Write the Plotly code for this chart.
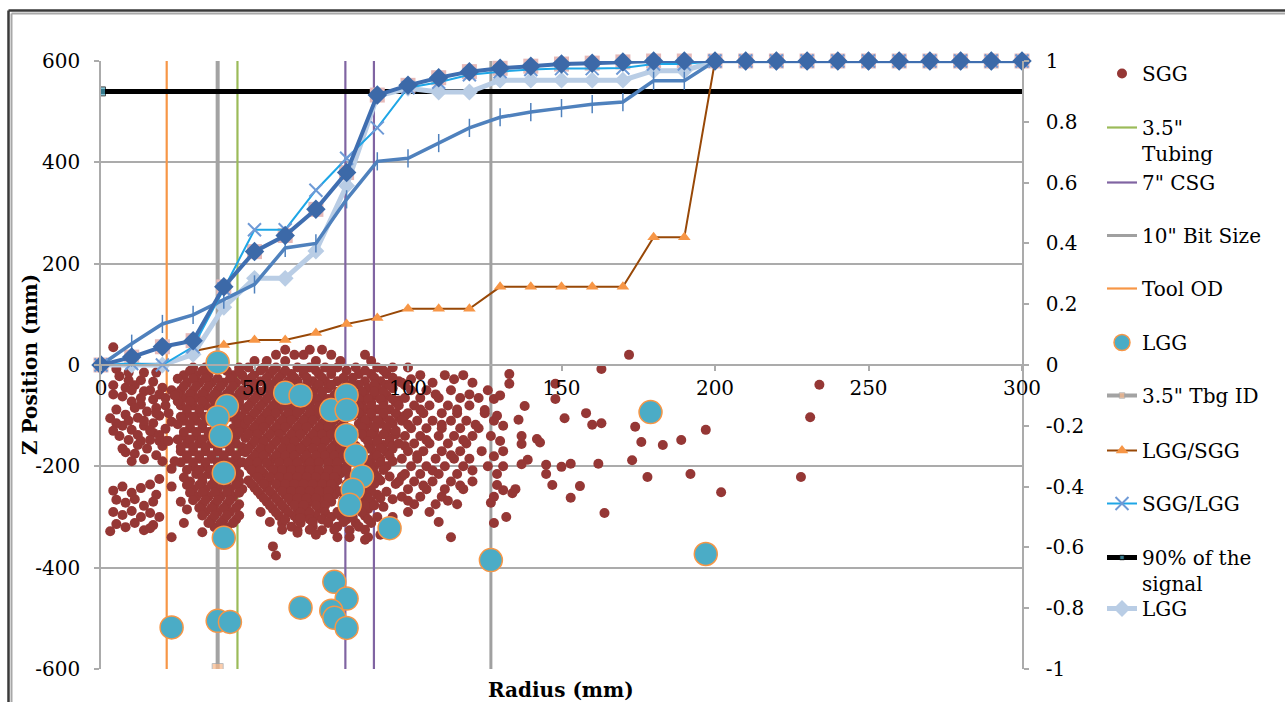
import plotly.graph_objects as go

FONT = "DejaVu Serif"

# ---------------------------------------------------------------------------
# Cumulative signal fractions (right axis), sampled every 10 mm of radius
# ---------------------------------------------------------------------------
radius_steps = list(range(0, 301, 10))

diamond_frac = [0, 0.026, 0.06, 0.08, 0.257, 0.373, 0.426, 0.512, 0.633, 0.888,
                0.92, 0.945, 0.965, 0.976, 0.983, 0.99, 0.993, 0.997,
                1, 1, 1, 1, 1, 1, 1, 1, 1, 1, 1, 1, 1]
square_frac = [0, 0.026, 0.06, 0.08, 0.257, 0.373, 0.426, 0.512, 0.633, 0.888,
               0.92, 0.945, 0.965, 0.976, 0.983, 0.99, 0.993, 0.997,
               1, 1, 1, 1, 1, 1, 1, 1, 1, 1, 1, 1, 1]
plus_frac = [0, 0.07, 0.135, 0.165, 0.215, 0.265, 0.385, 0.4, 0.545, 0.67,
             0.68, 0.73, 0.78, 0.815, 0.832, 0.845, 0.858, 0.865, 0.935, 0.935,
             1, 1, 1, 1, 1, 1, 1, 1, 1, 1, 1]
sgg_over_lgg = [0, 0.005, 0, 0.06, 0.25, 0.445, 0.445, 0.575, 0.68, 0.78,
                0.912, 0.93, 0.955, 0.965, 0.972, 0.975, 0.975, 0.977, 0.99, 0.99,
                1, 1, 1, 1, 1, 1, 1, 1, 1, 1, 1]
lgg_frac = [0, 0, 0, 0.035, 0.19, 0.285, 0.285, 0.375, 0.59, 0.885,
            0.91, 0.898, 0.898, 0.937, 0.937, 0.937, 0.937, 0.937, 0.968, 0.968,
            1, 1, 1, 1, 1, 1, 1, 1, 1, 1, 1]

ratio_radius = list(range(30, 201, 10))
lgg_over_sgg = [0.045, 0.066, 0.082, 0.082, 0.105, 0.135, 0.155, 0.185, 0.185,
                0.185, 0.257, 0.257, 0.257, 0.257, 0.257, 0.42, 0.42, 1.0]

signal_90_radius = [0, 300]
signal_90_level = [0.9, 0.9]

# ---------------------------------------------------------------------------
# Completion radii (mm) drawn as full-height vertical lines
# ---------------------------------------------------------------------------
z_span = [-600, 600]
tool_od_radius = 21.4
tbg_id_radius = 38.0
tubing_od_radius = 44.45
csg_id_radius = 79.6
csg_od_radius = 88.9
bit_radius = 127.0

# ---------------------------------------------------------------------------
# LGG detection positions (radius mm, z mm)
# ---------------------------------------------------------------------------
lgg_points = [
    (38, 5), (41, -81), (38, -103), (39, -140), (40, -213), (40, -341),
    (23, -518), (38, -505), (42, -507), (60, -55), (65, -60), (75, -89),
    (80, -59), (80, -89), (80, -138), (83, -178), (85, -220), (82, -246),
    (81, -276), (94, -322), (127, -385), (179, -93), (197, -373),
    (65, -479), (76, -428), (80, -461), (75, -485), (76, -499), (80, -519),
]

# ---------------------------------------------------------------------------
# SGG detection positions: dense bands listed as (z, [radii]) and loose points
# ---------------------------------------------------------------------------
sgg_rows = [
    # near-wellbore band
    (-8, [5]), (-22, [6]), (-40, [4, 11]), (-45, [8]), (-52, [14]), (-33, [17]),
    (-45, [20]), (-62, [7]), (-72, [10]), (-78, [13]), (-68, [17]), (-80, [21]),
    (-88, [5]), (-98, [8]), (-104, [12]), (-92, [15]), (-100, [19]), (-112, [23]),
    (-120, [7, 14]), (-128, [10]), (-134, [17]), (-126, [21]), (-148, [9, 16]),
    (-158, [12]), (-160, [20]), (-175, [11]), (-186, [14]), (-172, [8]),
    (-178, [18]), (-140, [6]), (-105, [3]),
    (-30, [9, 13]), (-58, [4, 19]), (-85, [11, 18]), (-115, [5, 17]),
    (-138, [12, 19]), (-165, [7, 15]),
    (-15, [9, 14, 18]), (-50, [10, 16, 23]), (-65, [13, 21]), (-95, [18, 22]),
    (-110, [9, 14]), (-130, [4, 16]), (-150, [13, 19, 21]), (-190, [10, 20]),
    # lower left pocket
    (-248, [4]), (-240, [7]), (-252, [10]), (-243, [13]), (-236, [16]),
    (-256, [18]), (-266, [5]), (-272, [8]), (-265, [11]), (-278, [14]),
    (-270, [17]), (-290, [4]), (-296, [7]), (-288, [10]), (-300, [13, 19]),
    (-292, [16]), (-314, [5]), (-320, [8]), (-312, [11]), (-326, [14]),
    (-316, [17]), (-328, [3]),
    # tubing / tool column
    (-5, [30, 34, 45]), (-20, [27, 31, 35, 43, 46]), (-35, [28, 32, 36, 40, 44]),
    (-50, [26, 30, 34, 38, 42, 46]), (-65, [27, 31, 35, 39, 43]),
    (-80, [26, 30, 34, 45]), (-95, [28, 32, 36, 44]), (-110, [27, 31, 35, 44]),
    (-125, [29, 33, 37, 43, 46]), (-140, [27, 31, 35, 44]),
    (-155, [28, 32, 36, 40, 44]), (-170, [26, 30, 34, 38, 42, 46]),
    (-185, [28, 32, 36, 40, 44]), (-200, [30, 34, 44]), (-215, [31, 35, 45]),
    (-230, [29, 33, 37, 41, 45]), (-245, [30, 34, 38, 42, 46]),
    (-260, [31, 35, 39, 43]), (-275, [33, 37, 41, 45]), (-290, [34, 38, 42]),
    (-305, [36, 40, 44]), (-320, [37, 41]), (-330, [33]),
    (-12, [29, 33, 41, 45]), (-27, [25, 30, 34, 38, 42]),
    (-42, [27, 31, 35, 39, 43]), (-57, [25, 29, 33, 37, 41, 45]),
    (-72, [25, 29, 33, 37, 41, 45]), (-87, [28, 32, 36, 41]),
    (-102, [26, 30, 34, 42, 46]), (-117, [25, 29, 33, 37, 45]),
    (-132, [27, 31, 35, 41, 45]), (-147, [25, 29, 33, 37, 42]),
    (-162, [26, 30, 34, 38, 42, 46]), (-178, [28, 32, 36, 40, 44]),
    (-192, [26, 30, 34, 38, 42, 46]), (-207, [28, 32, 36, 40, 43]),
    (-222, [27, 33, 37, 41, 43]), (-237, [28, 32, 36, 40, 44]),
    (-252, [29, 33, 37, 41, 45]), (-267, [30, 34, 38, 42]),
    (-282, [32, 36, 40, 44]), (-297, [33, 37, 41, 45]), (-312, [35, 39, 43]),
    # casing annulus / formation cloud
    (30, [60, 68, 72]), (20, [57, 63, 66, 75, 86]), (8, [50, 54, 60, 70, 78, 88]),
    (-5, [48, 53, 57, 64, 68, 73, 77, 83, 90, 95]),
    (-18, [50, 55, 59, 62, 66, 71, 75, 84, 88, 93]),
    (-32, [47, 52, 57, 61, 64, 69, 73, 77, 86, 91, 97]),
    (-46, [49, 54, 58, 62, 66, 70, 74, 87, 90, 95]),
    (-60, [47, 51, 55, 69, 72, 76, 86, 89, 93]),
    (-74, [49, 53, 57, 60, 64, 68, 71, 74, 85, 88, 92, 96]),
    (-88, [47, 51, 55, 58, 62, 65, 69, 72, 86, 90, 94]),
    (-102, [49, 53, 56, 60, 63, 67, 70, 74, 77, 85, 88, 92, 97]),
    (-116, [47, 51, 54, 58, 61, 65, 68, 72, 75, 79, 84, 87, 91, 95]),
    (-130, [49, 52, 56, 59, 63, 66, 70, 73, 76, 86, 89, 93]),
    (-144, [47, 51, 54, 58, 61, 64, 68, 71, 74, 77, 86, 90, 94]),
    (-158, [49, 53, 56, 60, 63, 66, 69, 72, 76, 79, 88, 92]),
    (-172, [47, 51, 54, 58, 61, 64, 67, 71, 74, 77, 80, 89, 93]),
    (-186, [49, 52, 56, 59, 62, 66, 69, 72, 75, 78, 88, 91]),
    (-200, [48, 51, 55, 58, 61, 64, 67, 70, 74, 77, 80, 89, 93]),
    (-214, [50, 53, 57, 60, 63, 66, 69, 72, 75, 78, 89]),
    (-228, [48, 52, 55, 59, 62, 65, 68, 71, 74, 77, 88, 91]),
    (-242, [50, 54, 58, 61, 64, 67, 70, 73, 76, 87]),
    (-256, [52, 56, 60, 63, 66, 69, 72, 76, 86, 90]),
    (-270, [54, 58, 62, 65, 68, 72, 75, 85, 88]),
    (-284, [56, 60, 64, 67, 71, 84, 87]),
    (-298, [58, 63, 66, 70, 78, 86]),
    (-312, [59, 65, 74, 83, 88]), (-326, [64, 72, 81]), (-340, [77, 81, 87]),
    (-11, [52, 56, 60, 66, 70, 75, 80, 86, 92]),
    (-25, [49, 54, 58, 63, 67, 72, 79, 82, 89, 95]),
    (-39, [50, 55, 59, 63, 67, 71, 75, 80, 84, 89, 93]),
    (-53, [48, 52, 56, 60, 64, 68, 72, 77, 85, 89, 92]),
    (-67, [50, 54, 58, 62, 66, 70, 74, 78, 84, 87, 91, 95]),
    (-81, [48, 52, 56, 60, 63, 67, 71, 75, 84, 88, 92]),
    (-95, [50, 54, 57, 61, 64, 68, 71, 75, 84, 88, 92, 96]),
    (-109, [48, 52, 55, 59, 62, 66, 69, 73, 76, 86, 90, 94]),
    (-123, [50, 53, 57, 60, 64, 67, 71, 74, 78, 85, 89, 93]),
    (-137, [48, 51, 55, 58, 62, 65, 69, 72, 75, 85, 88, 92, 96]),
    (-151, [50, 53, 57, 60, 63, 67, 70, 73, 77, 87, 90, 94]),
    (-165, [48, 52, 55, 59, 62, 65, 69, 72, 75, 78, 87, 91, 95]),
    (-179, [50, 53, 57, 60, 63, 67, 70, 73, 76, 79, 90, 94]),
    (-193, [48, 51, 54, 58, 61, 64, 68, 71, 74, 77, 87, 91]),
    (-207, [49, 52, 56, 59, 62, 65, 68, 71, 74, 77, 80, 88, 92]),
    (-221, [51, 55, 58, 61, 64, 67, 70, 73, 76, 87, 90]),
    (-235, [49, 53, 57, 60, 63, 66, 69, 72, 75, 86, 89]),
    (-249, [51, 55, 59, 62, 65, 68, 71, 74, 78, 85, 88]),
    (-263, [53, 57, 61, 64, 67, 70, 74, 84, 87, 91]),
    (-277, [55, 59, 63, 66, 70, 73, 86, 89]),
    (-291, [57, 61, 65, 68, 73, 85]),
    (-305, [60, 64, 68, 72, 80, 87]),
    (-319, [62, 69, 77, 84]),
    (-40, [82, 94, 99]), (-70, [81, 97]), (-100, [82, 99]), (-130, [81, 96]),
    (-160, [83, 95, 99]), (-190, [82, 95]), (-220, [81, 94, 98]),
    (-250, [82, 93]), (-280, [79, 82, 92]), (-300, [75, 82, 90, 95]),
    (-265, [79, 95]), (-235, [80, 96]), (-290, [52, 77]), (-310, [55, 69, 79]),
    (-325, [59, 68, 76, 86]), (-335, [70, 91]),
    # outer formation band
    (-5, [100]), (-20, [104, 112, 118]), (-35, [98, 108, 121]),
    (-50, [101, 106, 114, 126]), (-65, [99, 104, 110, 117, 123]),
    (-80, [97, 102, 107, 113, 120]), (-95, [100, 105, 111, 116, 125]),
    (-110, [98, 103, 108, 114, 119, 128]), (-125, [101, 106, 111, 117, 123]),
    (-140, [99, 104, 110, 115, 121, 127]), (-155, [97, 102, 107, 113, 119]),
    (-170, [100, 105, 111, 117, 124]), (-185, [98, 103, 109, 115, 120]),
    (-200, [101, 106, 112, 118, 126]), (-215, [99, 104, 110, 116]),
    (-230, [97, 102, 108, 114, 121]), (-245, [100, 106, 112, 118]),
    (-260, [98, 104, 111]), (-275, [102, 109, 116]), (-290, [100, 107]),
    (-310, [110]), (-340, [114]),
    (-28, [101, 115]), (-58, [109, 120]), (-88, [104, 116]),
    (-118, [100, 111, 122]), (-148, [106, 118]), (-178, [103, 114]),
    (-208, [108, 121]), (-238, [105, 117]), (-268, [100, 113]),
]

sgg_loose = [
    (4, 35), (23, -240), (26, -270), (27, -312), (23, -340), (19, -225),
    (16, -322), (24, -60), (22, -150), (24, -190), (23, -205), (28, -285),
    (56, -358), (57, -376), (65, -302), (64, -331), (74, -310), (86, -345),
    (172, 20), (163, -8), (133, -18), (133, -37), (148, -37), (148, -67),
    (138, -81), (128, -67), (125, -89), (136, -108), (151, -105), (158, -95),
    (160, -118), (163, -115), (174, -122), (176, -152), (183, -158),
    (189, -148), (197, -128), (234, -39), (231, -103), (228, -221),
    (202, -251), (192, -215), (178, -221), (173, -188), (162, -195),
    (164, -292), (156, -239), (153, -262), (153, -195), (150, -201),
    (147, -237), (145, -215), (145, -197), (142, -146), (143, -153),
    (139, -187), (137, -140), (137, -156), (137, -196), (135, -245),
    (134, -253), (132, -300), (131, -170), (131, -247), (129, -237),
    (128, -312), (127, -272), (130, -60), (129, -100), (131, -120),
    (130, -150), (128, -180), (131, -200), (129, -215), (128, -260),
]

sgg_r = [r for z, rs in sgg_rows for r in rs] + [p[0] for p in sgg_loose]
sgg_z = [z for z, rs in sgg_rows for r in rs] + [p[1] for p in sgg_loose]

# ---------------------------------------------------------------------------
# Plot-area geometry (pixels) and helpers for paper coordinates
# ---------------------------------------------------------------------------
W, H = 1285, 702
PL, PT, PW, PH = 101, 61, 921, 608


def paper_x(px):
    return (px - PL) / PW


def paper_y(py):
    return (PT + PH - py) / PH


fig = go.Figure()


def vline(radius_list, name, color, width, legend):
    xs, ys = [], []
    for r in radius_list:
        xs += [r, r, None]
        ys += [z_span[0], z_span[1], None]
    fig.add_trace(go.Scatter(x=xs, y=ys, mode="lines", name=name,
                             line=dict(color=color, width=width),
                             legend=legend))


vline([tool_od_radius], "Tool OD", "#f79646", 2.2, "legend5")
fig.add_trace(go.Scatter(
    x=[tbg_id_radius, tbg_id_radius], y=z_span, mode="lines+markers",
    name='3.5" Tbg ID', line=dict(color="#a3a3a3", width=4),
    marker=dict(symbol="square", size=[11, 0], color="#fab98a"),
    legend="legend7"))
vline([tubing_od_radius], '3.5"<br>Tubing', "#9bbb59", 2.2, "legend2")
vline([csg_id_radius, csg_od_radius], '7" CSG', "#8064a2", 2.2, "legend3")
vline([bit_radius], '10" Bit Size', "#a0a0a0", 3, "legend4")

fig.add_trace(go.Scatter(
    x=sgg_r, y=sgg_z, mode="markers", name="SGG",
    marker=dict(size=10, color="#953735"), legend="legend"))

fig.add_trace(go.Scatter(
    x=[p[0] for p in lgg_points], y=[p[1] for p in lgg_points], mode="markers",
    name="LGG", marker=dict(size=23, color="#4bacc6",
                            line=dict(color="#f79646", width=1.5)),
    legend="legend6"))

# right-axis curves
fig.add_trace(go.Scatter(
    x=signal_90_radius, y=signal_90_level, yaxis="y2", mode="lines+markers",
    name="90% of the<br>signal", line=dict(color="black", width=5),
    marker=dict(symbol="square", size=[9, 0], color="#4bacc6"),
    legend="legend10"))
fig.add_trace(go.Scatter(
    x=ratio_radius, y=lgg_over_sgg, yaxis="y2", mode="lines+markers",
    name="LGG/SGG", line=dict(color="#984807", width=2),
    marker=dict(symbol="triangle-up", size=11, color="#f79646"),
    legend="legend8", cliponaxis=False))
fig.add_trace(go.Scatter(
    x=radius_steps, y=square_frac, yaxis="y2", mode="markers",
    marker=dict(symbol="square", size=15, color="#e6b9b8"),
    showlegend=False, cliponaxis=False))
fig.add_trace(go.Scatter(
    x=radius_steps, y=lgg_frac, yaxis="y2", mode="lines+markers", name="LGG",
    line=dict(color="#b9cde5", width=5),
    marker=dict(symbol="diamond", size=13, color="#b9cde5"),
    legend="legend11", cliponaxis=False))
fig.add_trace(go.Scatter(
    x=radius_steps, y=plus_frac, yaxis="y2", mode="lines+markers",
    line=dict(color="#4f81bd", width=3.5),
    marker=dict(symbol="line-ns", size=13, color="#4f81bd",
                line=dict(color="#4f81bd", width=1.5)),
    showlegend=False, cliponaxis=False))
fig.add_trace(go.Scatter(
    x=radius_steps, y=sgg_over_lgg, yaxis="y2", mode="lines+markers",
    name="SGG/LGG", line=dict(color="#1ea6e6", width=2),
    marker=dict(symbol="x-thin", size=13, color="#6f9ad6",
                line=dict(color="#6f9ad6", width=2)),
    legend="legend9", cliponaxis=False))
fig.add_trace(go.Scatter(
    x=radius_steps, y=diamond_frac, yaxis="y2", mode="lines+markers",
    line=dict(color="#3f6eb0", width=4),
    marker=dict(symbol="diamond", size=15, color="#3c69a8"),
    showlegend=False, cliponaxis=False))

# ---------------------------------------------------------------------------
# Axes
# ---------------------------------------------------------------------------
grid = "#ababab"
tick_font = dict(family=FONT, size=20, color="black")
z_ticks = [-600, -400, -200, 0, 200, 400, 600]
frac_ticks = [-1, -0.8, -0.6, -0.4, -0.2, 0, 0.2, 0.4, 0.6, 0.8, 1]
r_ticks = [0, 50, 100, 150, 200, 250, 300]

fig.update_layout(
    width=W, height=H,
    margin=dict(l=PL, r=W - PL - PW, t=PT, b=H - PT - PH),
    paper_bgcolor="white", plot_bgcolor="white",
    xaxis=dict(range=[0, 300], anchor="free", position=0.5,
               tickvals=r_ticks, ticktext=[str(v) for v in r_ticks],
               ticks="outside", ticklen=5, tickcolor=grid, tickwidth=1.5,
               showline=True, linecolor=grid, linewidth=1.5,
               showgrid=False, zeroline=False, tickfont=tick_font),
    yaxis=dict(range=[-600, 600], tickvals=z_ticks,
               ticktext=[str(v) for v in z_ticks],
               ticks="outside", ticklen=5, tickcolor=grid, tickwidth=1.5,
               ticklabelstandoff=10,
               showline=True, linecolor=grid, linewidth=1.5,
               showgrid=True, gridcolor=grid, gridwidth=1.5,
               zeroline=False, tickfont=tick_font),
    yaxis2=dict(range=[-1, 1], overlaying="y", side="right",
                tickvals=frac_ticks,
                ticktext=[("%g" % v) for v in frac_ticks],
                ticks="outside", ticklen=5, tickcolor=grid, tickwidth=1.5,
                ticklabelstandoff=13,
                showline=True, linecolor=grid, linewidth=1.5,
                showgrid=False, zeroline=False, tickfont=tick_font),
)

# ---------------------------------------------------------------------------
# One legend box per entry so each sits on its own row
# ---------------------------------------------------------------------------
legend_rows = {
    "legend": 73, "legend2": 127, "legend3": 182, "legend4": 235,
    "legend5": 288, "legend6": 342, "legend7": 395, "legend8": 450,
    "legend9": 503, "legend10": 557, "legend11": 608,
}
for key, row_px in legend_rows.items():
    fig.update_layout({key: dict(
        x=paper_x(1102), y=paper_y(row_px - 19), xanchor="left", yanchor="top",
        valign="top", bgcolor="rgba(0,0,0,0)", borderwidth=0,
        font=dict(family=FONT, size=20, color="black"),
        itemwidth=30, tracegroupgap=0)})

# axis titles
fig.add_annotation(text="<b>Radius (mm)</b>", x=paper_x(561), y=paper_y(690),
                   xref="paper", yref="paper", showarrow=False,
                   xanchor="center", yanchor="middle",
                   font=dict(family=FONT, size=20, color="black"))
fig.add_annotation(text="<b>Z Position (mm)</b>", x=paper_x(30), y=paper_y(365),
                   xref="paper", yref="paper", showarrow=False, textangle=-90,
                   xanchor="center", yanchor="middle",
                   font=dict(family=FONT, size=20, color="black"))

# chart frame (left and top edges)
for px_off, color, width in [(8.5, "#3a3a3a", 2.5), (11.5, "#a8a8a8", 2)]:
    fig.add_shape(type="line", xref="paper", yref="paper",
                  x0=paper_x(px_off), x1=paper_x(px_off),
                  y0=paper_y(px_off + 2), y1=paper_y(H + 5),
                  line=dict(color=color, width=width))
    fig.add_shape(type="line", xref="paper", yref="paper",
                  x0=paper_x(px_off), x1=paper_x(W + 5),
                  y0=paper_y(px_off + 2), y1=paper_y(px_off + 2),
                  line=dict(color=color, width=width))

fig.write_html("out.html")
